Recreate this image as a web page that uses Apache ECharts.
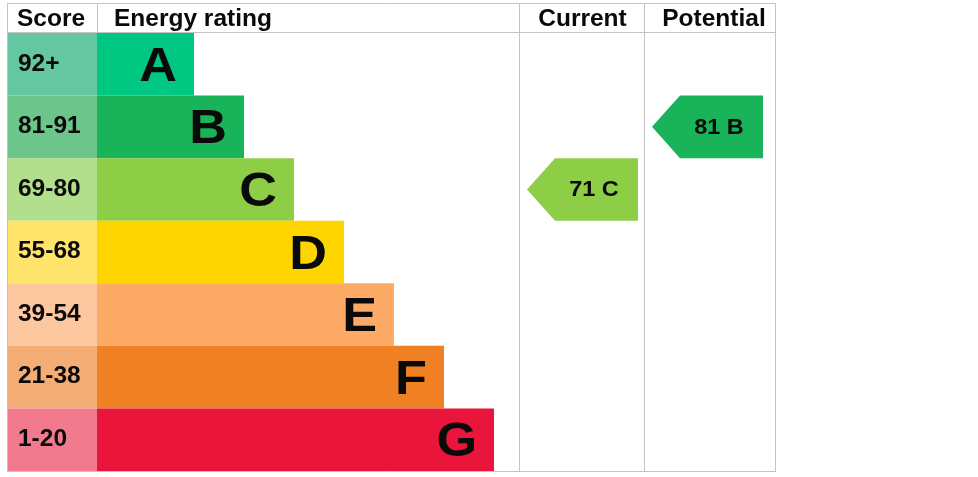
<!DOCTYPE html>
<html><head><meta charset="utf-8">
<script src="https://cdn.jsdelivr.net/npm/echarts@6/dist/echarts.min.js"></script>
<style>html,body{margin:0;padding:0;background:#fff}#c{width:978px;height:477px}</style>
</head><body><div id="c"></div>
<script>
// ---- data ----
const bands = ['A','B','C','D','E','F','G'];
const scoreRanges = ['92+','81-91','69-80','55-68','39-54','21-38','1-20'];
const bandMinScores = [92,81,69,55,39,21,1];
const barLengths = [97,147,197,247,297,347,397];
const currentScore = 71;
const potentialScore = 81;
const headers = ['Score','Energy rating','Current','Potential'];

// ---- styles ----
const barColors = ['#00c781','#19b459','#8dce46','#ffd500','#fcaa65','#ef8023','#e9153b'];
const scoreColors = ['#64c7a2','#6cc58a','#b2df8b','#fee46b','#fdc8a0','#f4ae75','#f27a8f'];
const FONT = "'Liberation Sans', Arial, sans-serif";
const TXT = '#0a0a0a';
const LINE = '#c4c4c4';
const SX = 1.065;

// layout in axis units (axis 0..769 spans table width)
const L = { scoreEnd: 90, curArrow: [520, 631], potArrow: [645, 756], tip: 28 };

function bandOf(score){ for (let i=0;i<bandMinScores.length;i++){ if (score>=bandMinScores[i]) return i; } return bands.length-1; }
function txt(x, y, text, size, align, z){
  const el = {type:'text', x:x, y:y, scaleX:SX, style:{x:0, y:0, text:text, font:'bold '+size+'px '+FONT, fill:TXT, align:align, verticalAlign:'middle'}};
  if (z !== undefined) el.z = z;
  return el;
}

const chart = echarts.init(document.getElementById('c'));

function renderScore(params, api){
  const i = api.value(0);
  const p0 = api.coord([0, i]);
  const p1 = api.coord([L.scoreEnd, i]);
  const h = api.size([0,1])[1];
  return {type:'group', children:[
    {type:'rect', shape:{x:p0[0], y:p0[1]-h/2, width:p1[0]-p0[0], height:h}, style:{fill:scoreColors[i]}},
    txt(p0[0]+11, p0[1], scoreRanges[i], 23, 'left')
  ]};
}
function renderBar(params, api){
  const i = api.value(0);
  const len = api.value(1);
  const p0 = api.coord([L.scoreEnd, i]);
  const p1 = api.coord([L.scoreEnd+len, i]);
  const h = api.size([0,1])[1];
  return {type:'group', children:[
    {type:'rect', shape:{x:p0[0], y:p0[1]-h/2, width:p1[0]-p0[0], height:h}, style:{fill:barColors[i]}},
    txt(p1[0]-17, p0[1]+3, bands[i], 49, 'right')
  ]};
}
function renderArrow(params, api){
  const score = api.value(0);
  const which = api.value(1);
  const i = bandOf(score);
  const ext = which === 0 ? L.curArrow : L.potArrow;
  const a = api.coord([ext[0], i]);
  const b = api.coord([ext[1], i]);
  const h = api.size([0,1])[1];
  const top = a[1]-h/2, bot = a[1]+h/2, x0=a[0], x1=b[0], xn = x0+L.tip;
  return {type:'group', children:[
    {type:'polygon', shape:{points:[[x0,a[1]],[xn,top],[x1,top],[x1,bot],[xn,bot]]}, style:{fill:barColors[i]}},
    txt((xn+x1)/2 - 2.5, a[1]+1, score+' '+bands[i], 22, 'center')
  ]};
}

// table lines & header (pixel layout)
const gL=7, gR=776, gT=33, gB=471, hT=3;
const colX=[7,97,519,644,776];
const lines = [];
function hl(y,x0,x1){ lines.push({type:'line', shape:{x1:x0,y1:y,x2:x1,y2:y}, style:{stroke:LINE, lineWidth:1}, z:10}); }
function vl(x,y0,y1){ lines.push({type:'line', shape:{x1:x,y1:y0,x2:x,y2:y1}, style:{stroke:LINE, lineWidth:1}, z:10}); }
hl(hT+0.5,gL,gR); hl(gT-0.5,gL,gR); hl(gB+0.5,gL,gR);
vl(gL+0.5,hT,gB); vl(colX[1]+0.5,hT,gT); vl(colX[2]+0.5,hT,gB); vl(colX[3]+0.5,hT,gB); vl(gR-0.5,hT,gB);
const hdr = [
  txt((colX[0]+colX[1])/2 - 1, 20, headers[0], 23, 'center', 11),
  txt(colX[1]+17, 20, headers[1], 23, 'left', 11),
  txt((colX[2]+colX[3])/2 + 1, 20, headers[2], 23, 'center', 11),
  txt((colX[3]+colX[4])/2 + 4, 20, headers[3], 23, 'center', 11)
];

chart.setOption({
  animation:false,
  grid:{left:gL, right:978-gR, top:gT, bottom:477-gB},
  xAxis:{type:'value', min:0, max:769, show:false},
  yAxis:{type:'category', data:bands, inverse:true, show:false},
  graphic: lines.concat(hdr),
  series:[
    {type:'custom', renderItem:renderScore, data:bands.map((b,i)=>[i]), clip:false},
    {type:'custom', renderItem:renderBar, data:bands.map((b,i)=>[i, barLengths[i]]), clip:false},
    {type:'custom', renderItem:renderArrow, data:[[currentScore,0],[potentialScore,1]], clip:false}
  ]
});
</script></body></html>
